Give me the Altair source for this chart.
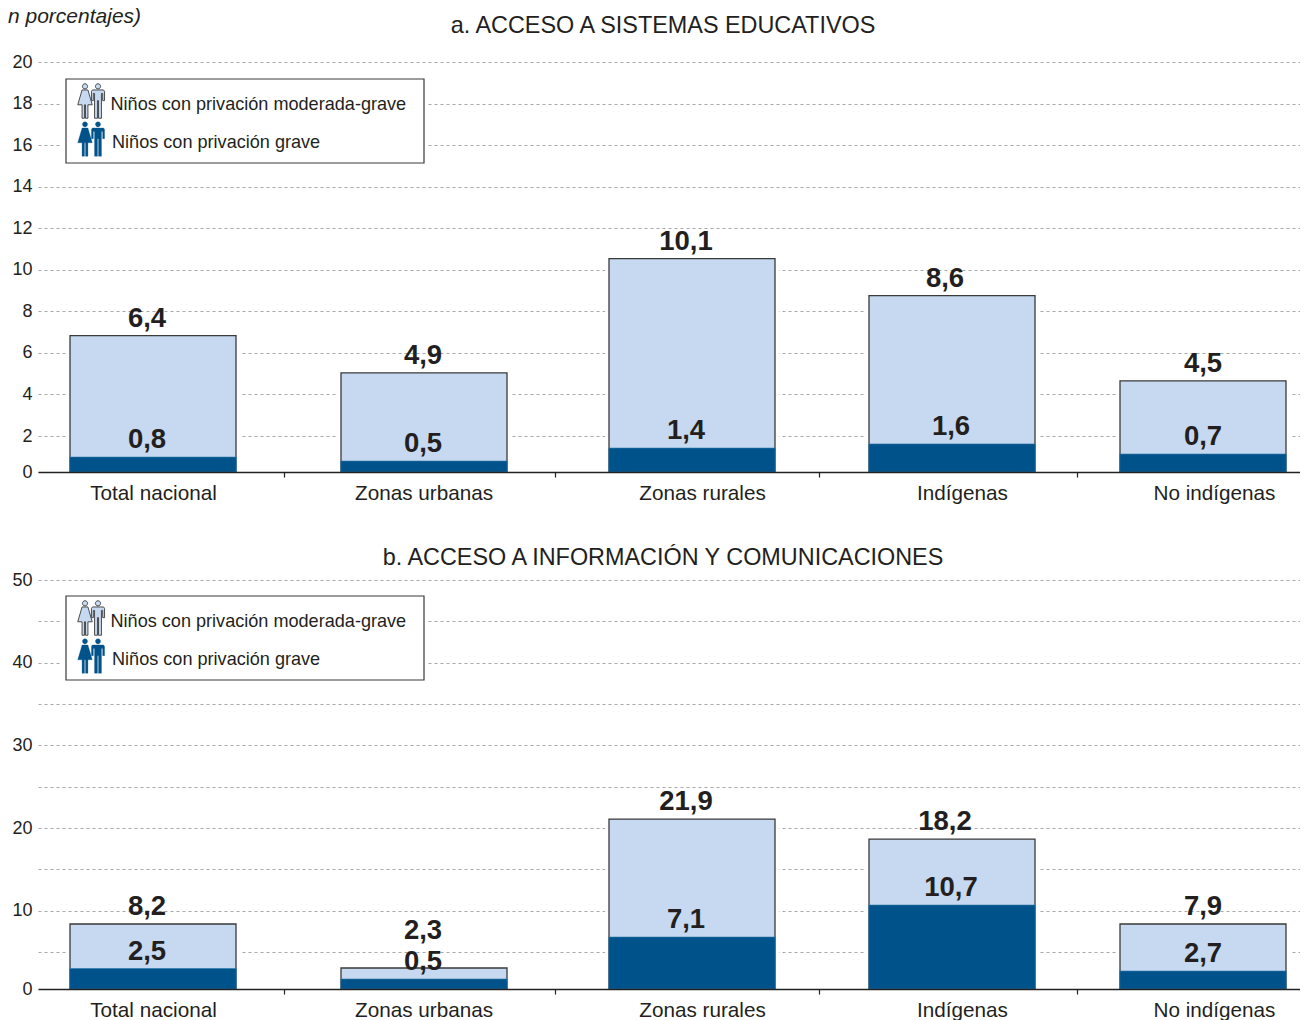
import json
import altair as alt
import pandas as pd

FONT = "Liberation Sans"
INK = "#231f20"
LIGHT = "#c6d9f0"
DARK = "#00538a"
EDGE = "#3a3a3a"
GRID = "#a8a8a8"

categories = ["Total nacional", "Zonas urbanas", "Zonas rurales", "Indígenas", "No indígenas"]

title_a = "a. ACCESO A SISTEMAS EDUCATIVOS"
moderate_a = [6.83, 5.04, 10.54, 8.76, 4.65]
severe_a = [0.83, 0.61, 1.33, 1.56, 1.0]
moderate_labels_a = ["6,4", "4,9", "10,1", "8,6", "4,5"]
severe_labels_a = ["0,8", "0,5", "1,4", "1,6", "0,7"]
anchor_a = [6.83, 5.04, 10.54, 8.76, 4.65]
ticks_a = [0, 2, 4, 6, 8, 10, 12, 14, 16, 18, 20]

title_b = "b. ACCESO A INFORMACIÓN Y COMUNICACIONES"
moderate_b = [8.39, 2.84, 21.08, 18.66, 8.39]
severe_b = [2.77, 1.35, 6.81, 10.68, 2.43]
moderate_labels_b = ["8,2", "2,3", "21,9", "18,2", "7,9"]
severe_labels_b = ["2,5", "0,5", "7,1", "10,7", "2,7"]
anchor_b = [8.39, 5.5, 21.08, 18.66, 8.39]
ticks_b = [0, 5, 10, 15, 20, 25, 30, 35, 40, 45, 50]

legend_moderate = "Niños con privación moderada-grave"
legend_severe = "Niños con privación grave"
unit_note = "n porcentajes)"

WIDTH = 1262
index = list(range(len(categories)))

bar_range = [115, 386, 654, 914, 1165]
top_label_range = [109, 385, 648, 907, 1165]
inner_label_range = [109, 385, 648, 913, 1165]
category_range = [115, 385.5, 664, 924, 1176]
tick_range = [246, 517, 781, 1039]

WOMAN = ("M0,-1 A.15,.15 0 1,1 0,-.7 A.15,.15 0 1,1 0,-1 Z "
         "M-.17,-.64 L.17,-.64 L.42,.22 L.17,.22 L.17,1 L.03,1 L.03,.22 "
         "L-.03,.22 L-.03,1 L-.17,1 L-.17,.22 L-.42,.22 Z")
MAN = ("M0,-1 A.15,.15 0 1,1 0,-.7 A.15,.15 0 1,1 0,-1 Z "
       "M-.32,-.64 L.32,-.64 L.38,-.56 L.38,-.02 L.27,-.02 L.27,-.44 L.2,-.44 L.2,1 "
       "L.03,1 L.03,-.02 L-.03,-.02 L-.03,1 L-.2,1 L-.2,-.44 L-.27,-.44 L-.27,-.02 "
       "L-.38,-.02 L-.38,-.56 Z")

one = pd.DataFrame({"k": [0]})


def text_at(text, x, y, size, align="left", **kw):
    return alt.Chart(one).mark_text(
        text=text, font=FONT, fontSize=size, color=INK, align=align, baseline="alphabetic", **kw
    ).encode(x=alt.value(x), y=alt.value(y))


def icon(shape, x, y, fill, stroke, width):
    return alt.Chart(one).mark_point(
        shape=shape, size=1190, filled=True, fill=fill, stroke=stroke, strokeWidth=width, opacity=1
    ).encode(x=alt.value(x), y=alt.value(y))


def legend(top):
    return [
        alt.Chart(one).mark_rect(fill="white").encode(
            x=alt.value(24), x2=alt.value(390), y=alt.value(top - 4), y2=alt.value(top + 88)),
        alt.Chart(one).mark_rect(fill="white", stroke=EDGE, strokeWidth=1.2).encode(
            x=alt.value(28), x2=alt.value(386), y=alt.value(top), y2=alt.value(top + 84)),
        icon(WOMAN, 47, top + 22, "#c6d9f0", EDGE, 0.9),
        icon(MAN, 60, top + 22, "#c6d9f0", EDGE, 0.9),
        icon(WOMAN, 47, top + 60, DARK, DARK, 0.3),
        icon(MAN, 60, top + 60, DARK, DARK, 0.3),
        text_at(legend_moderate, 72.5, top + 31, 18.1),
        text_at(legend_severe, 74, top + 69, 18.1),
    ]


def stretched(points, rng):
    return alt.Scale(domain=[points[0] - 1] + points + [points[-1] + 1], range=[0] + rng + [WIDTH],
                     nice=False, zero=False, padding=0)


def panel(title, title_y, moderate, severe, top_labels, inner_labels, anchor, ticks, label_every, height, zero_px, legend_top, extra=None):
    df = pd.DataFrame({
        "i": index,
        "moderate": moderate,
        "severe": severe,
        "top_label": top_labels,
        "inner_label": inner_labels,
        "anchor": anchor,
    })
    yscale = alt.Scale(domain=[ticks[0], ticks[1], ticks[-1]], range=[height, height - zero_px, 0], nice=False, zero=False)
    y_axis = alt.Axis(
        values=ticks, grid=True, gridDash=[3, 3], gridColor=GRID, gridWidth=1, ticks=False, domain=False,
        labelFont=FONT, labelFontSize=18, labelColor=INK, labelPadding=6, title=None,
        labelExpr=f"datum.value % {label_every} == 0 ? datum.label : ''",
    )

    def xs(rng):
        return alt.X("i:Q", scale=stretched(index, rng), axis=None)

    base = alt.Chart(df)
    halo = base.mark_bar(size=174, color="white").encode(
        x=xs(bar_range), y=alt.Y("moderate:Q", scale=yscale, axis=y_axis))
    outer = base.mark_bar(size=166, fill=LIGHT, stroke=EDGE, strokeWidth=1.3).encode(
        x=xs(bar_range), y=alt.Y("moderate:Q", scale=yscale))
    inner = base.mark_bar(size=166.5, fill=DARK, stroke="#2f78ab", strokeWidth=0.6).encode(
        x=xs(bar_range), y=alt.Y("severe:Q", scale=yscale))
    value_style = dict(font=FONT, fontSize=27.5, fontWeight="bold", color=INK, baseline="middle", dy=-17)
    top_text = base.mark_text(**value_style).encode(
        x=xs(top_label_range), y=alt.Y("anchor:Q", scale=yscale), text="top_label:N")
    inner_text = base.mark_text(**value_style).encode(
        x=xs(inner_label_range), y=alt.Y("severe:Q", scale=yscale), text="inner_label:N")

    names = json.dumps(categories, ensure_ascii=False)
    cat_axis = base.mark_point(opacity=0).encode(
        x=alt.X("i:Q", scale=stretched(index, category_range),
                axis=alt.Axis(values=index, labelExpr=f"{names}[datum.value]", ticks=False, grid=False, orient="bottom",
                              domain=True, domainColor="#222", domainWidth=1.4, labelFont=FONT, labelFontSize=20.7,
                              labelColor=INK, labelPadding=11, title=None, zindex=2, labelOverlap=False, labelFlush=False)),
        y=alt.Y("severe:Q", scale=yscale),
    )
    tick_index = index[:-1]
    tick_axis = alt.Chart(pd.DataFrame({"i": tick_index, "severe": severe[:-1]})).mark_point(opacity=0).encode(
        x=alt.X("i:Q", scale=stretched(tick_index, tick_range),
                axis=alt.Axis(values=tick_index, labels=False, ticks=True, tickSize=5, tickColor="#222", tickWidth=1.2,
                              orient="bottom", grid=False, domain=False, title=None, zindex=2)),
        y=alt.Y("severe:Q", scale=yscale),
    )
    layers = [halo, outer, inner, top_text, inner_text, cat_axis, tick_axis] + legend(legend_top)
    layers.append(text_at(title, 625, title_y, 23.4, align="center"))
    if extra is not None:
        layers.append(extra)
    return alt.layer(*layers).resolve_scale(x="independent").properties(width=WIDTH, height=height)


note = text_at(unit_note, -30, -39, 21, fontStyle="italic")
a = panel(title_a, -29, moderate_a, severe_a, moderate_labels_a, severe_labels_a, anchor_a, ticks_a, 2, 410, 36, 17, note)
b = panel(title_b, -15, moderate_b, severe_b, moderate_labels_b, severe_labels_b, anchor_b, ticks_b, 10, 409, 37, 16)

chart = alt.vconcat(a, b, spacing=43).properties(padding={"left": 0, "top": -2, "right": 0, "bottom": 0}).configure_view(stroke=None)
chart.save("out.html", embed_options={"renderer": "svg", "actions": False})
